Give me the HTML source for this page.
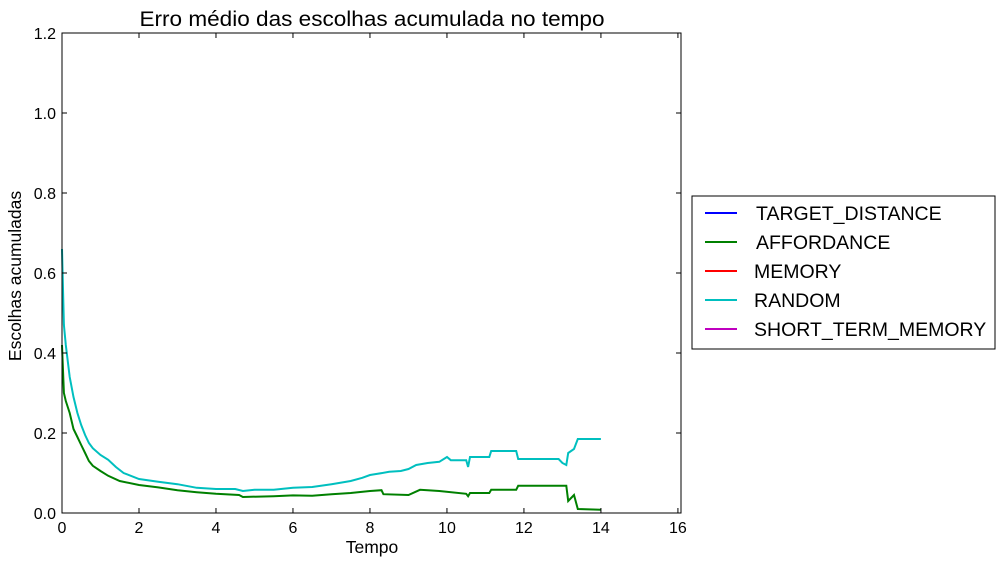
<!DOCTYPE html>
<html><head><meta charset="utf-8"><style>
body{margin:0;background:#fff;}
text{font-family:"Liberation Sans",sans-serif;}
</style></head><body>
<svg id="chart" width="1005" height="565" xmlns="http://www.w3.org/2000/svg">
<rect width="1005" height="565" fill="#fff"/>
<text x="372" y="26" font-size="21" text-anchor="middle" textLength="465" lengthAdjust="spacingAndGlyphs">Erro médio das escolhas acumulada no tempo</text>
<g id="plot"></g>
<text x="372" y="553" font-size="17.5" text-anchor="middle">Tempo</text>
<text x="21" y="276" font-size="17.5" text-anchor="middle" transform="rotate(-90 21 276)">Escolhas acumuladas</text>
<g>
<rect x="692" y="196" width="303" height="153" fill="#fff" stroke="#000" stroke-width="1"/>
<g id="legend-items"></g>
</g>
</svg>
<script>
const xTicks=[0,2,4,6,8,10,12,14,16];
const yTicks=[0.0,0.2,0.4,0.6,0.8,1.0,1.2];
const seriesNames=["TARGET_DISTANCE","AFFORDANCE","MEMORY","RANDOM","SHORT_TERM_MEMORY"];
const seriesColors=["#0000ff","#008000","#ff0000","#00bfbf","#bf00bf"];
const randomX=[0,0.05,0.1,0.2,0.3,0.4,0.5,0.6,0.7,0.8,1.0,1.2,1.4,1.6,2.0,2.5,3.0,3.5,4.0,4.5,4.7,5,5.5,6,6.5,7,7.5,7.8,8,8.2,8.5,8.8,9,9.2,9.5,9.8,10,10.1,10.5,10.55,10.6,11.1,11.15,11.8,11.85,12.9,13.0,13.1,13.15,13.3,13.4,14.0];
const randomY=[0.66,0.47,0.42,0.34,0.29,0.25,0.22,0.195,0.175,0.162,0.145,0.133,0.115,0.1,0.085,0.078,0.072,0.063,0.06,0.06,0.055,0.058,0.058,0.063,0.065,0.072,0.08,0.088,0.095,0.098,0.103,0.105,0.11,0.12,0.125,0.128,0.14,0.132,0.132,0.115,0.14,0.14,0.155,0.155,0.135,0.135,0.125,0.12,0.15,0.16,0.185,0.185];
const affX=[0,0.05,0.1,0.2,0.3,0.4,0.5,0.6,0.7,0.8,1.0,1.2,1.5,2,2.5,3,3.5,4,4.6,4.7,5.5,6,6.5,7,7.5,8,8.3,8.35,9,9.3,9.8,10.5,10.55,10.6,11.1,11.15,11.8,11.85,13.1,13.15,13.3,13.4,14];
const affY=[0.42,0.3,0.28,0.25,0.21,0.19,0.17,0.15,0.13,0.118,0.105,0.093,0.08,0.07,0.064,0.057,0.052,0.048,0.045,0.04,0.042,0.044,0.043,0.047,0.05,0.055,0.057,0.047,0.045,0.058,0.055,0.048,0.042,0.05,0.05,0.058,0.058,0.068,0.068,0.03,0.045,0.01,0.008];
const X0=62,X1=681,Y0=513,Y1=33,XMAX=16.08,YMAX=1.2;
const sx=v=>X0+v/XMAX*(X1-X0), sy=v=>Y0-v/YMAX*(Y0-Y1);
const NS="http://www.w3.org/2000/svg";
const plot=document.getElementById('plot');
function mk(t,a,p){const e=document.createElementNS(NS,t);for(const k in a)e.setAttribute(k,a[k]);(p||plot).appendChild(e);return e;}
function series(xs,ys,color,name){
 const d=xs.map((x,i)=>(i?'L':'M')+sx(x).toFixed(1)+' '+sy(ys[i]).toFixed(1)).join(' ');
 const p=mk('path',{d:d,fill:'none',stroke:color,'stroke-width':2});
 
 
}
series(randomX,randomY,seriesColors[3],'random-line');
series(affX,affY,seriesColors[1],'affordance-line');
const frame=mk('rect',{x:X0,y:Y1,width:X1-X0,height:Y0-Y1,fill:'none',stroke:'#000','stroke-width':1});


xTicks.forEach(t=>{const x=sx(t);
 mk('line',{x1:x,x2:x,y1:Y0,y2:Y0-5,stroke:'#000'});mk('line',{x1:x,x2:x,y1:Y1,y2:Y1+5,stroke:'#000'});
 const l=mk('text',{x:x,y:Y0+20,'font-size':16,'text-anchor':'middle'});l.textContent=t;
 
 });
yTicks.forEach(t=>{const y=sy(t);
 mk('line',{x1:X0,x2:X0+5,y1:y,y2:y,stroke:'#000'});mk('line',{x1:X1,x2:X1-5,y1:y,y2:y,stroke:'#000'});
 const l=mk('text',{x:X0-6,y:y+6,'font-size':16,'text-anchor':'end'});l.textContent=t.toFixed(1);
 
 });
const li=document.getElementById('legend-items');
seriesNames.forEach((n,i)=>{const y=213+i*29;
 const g=mk('g',{},li);
 
 
 mk('line',{x1:705,x2:737,y1:y,y2:y,stroke:seriesColors[i],'stroke-width':2},g);
 const t=mk('text',{x:i>=2?754:756,y:y+7,'font-size':19.5},g);t.textContent=n;});
</script>
</body></html>
